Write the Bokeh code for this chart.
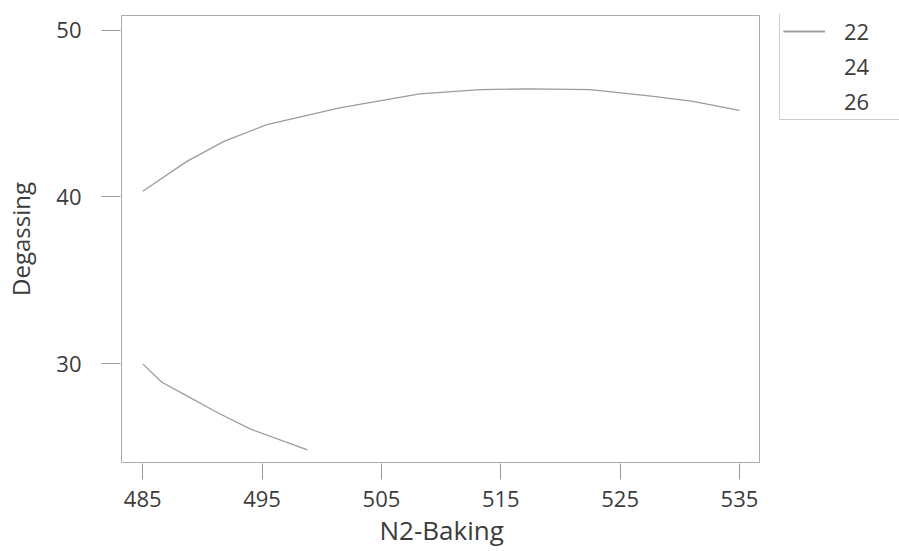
from bokeh.plotting import figure
from bokeh.models import Legend, LegendItem, Range1d, FixedTicker, BoxAnnotation, Title
from bokeh.embed import file_html
from bokeh.resources import INLINE

# contour level values (legend)
levels = ["22", "24", "26"]

# contour segment for level 22 (upper branch)
upper_x = [485.0, 488.7, 491.8, 495.4, 501.5, 508.2, 513.3, 517.5, 522.5, 527.8, 531.1, 535.0]
upper_y = [40.34, 42.13, 43.33, 44.33, 45.33, 46.17, 46.43, 46.47, 46.43, 46.02, 45.72, 45.19]

# contour segment (lower branch)
lower_x = [485.0, 486.6, 488.4, 491.2, 494.0, 498.8]
lower_y = [30.0, 28.9, 28.2, 27.1, 26.1, 24.85]

x_ticks = [485, 495, 505, 515, 525, 535]
y_ticks = [30, 40, 50]

# axis limits of the plotting box
x_lim = (483.22, 536.68)
y_lim = (24.09, 50.87)

x_title = "N2-Baking"
y_title = "Degassing"

FONT = "Open Sans"
TEXT = "#3c3c3c"
LINE = "#9c9c9c"

# layout: the plot box spans pixels 121..759 horizontally, 15..462 vertically;
# the frame is widened to the window's right edge so the legend can sit beside the box
box_px_w = 759 - 121
box_px_h = 462 - 15
ux = box_px_w / (x_lim[1] - x_lim[0])
uy = box_px_h / (y_lim[1] - y_lim[0])
left_px, top_px, bottom_px = 120, 14, 463
xr = Range1d(x_lim[0] - 1 / ux, x_lim[0] + (899 - left_px - 1) / ux)
yr = Range1d(y_lim[0] - 1 / uy, y_lim[1] + 1 / uy)

p = figure(width=899, height=551, output_backend="svg", toolbar_location=None,
           x_range=xr, y_range=yr,
           min_border_left=left_px, min_border_right=0, min_border_top=top_px,
           min_border_bottom=551 - bottom_px)
p.xgrid.visible = False
p.ygrid.visible = False
p.outline_line_color = None
p.background_fill_color = "white"
p.border_fill_color = "white"

p.add_layout(BoxAnnotation(left=x_lim[0], right=x_lim[1], bottom=y_lim[0], top=y_lim[1],
                           fill_alpha=0, line_color="#aaaaaa", line_width=1, line_alpha=1))

r_up = p.line(upper_x, upper_y, line_color=LINE, line_width=1.3)
r_lo = p.line(lower_x, lower_y, line_color=LINE, line_width=1.3)
r24 = p.line([], [], line_color="#f2f2f2", line_width=1.3)
r26 = p.line([], [], line_color="#f2f2f2", line_width=1.3)

for ax in (p.xaxis[0], p.yaxis[0]):
    ax.axis_line_color = None
    ax.major_tick_line_color = "#9a9a9a"
    ax.minor_tick_line_color = None
    ax.major_tick_in = 0
    ax.major_label_text_font = FONT
    ax.major_label_text_font_size = "22px"
    ax.major_label_text_color = TEXT
    ax.axis_label_text_font = FONT
    ax.axis_label_text_font_size = "24px"
    ax.axis_label_text_font_style = "normal"
    ax.axis_label_text_color = TEXT

p.xaxis.ticker = FixedTicker(ticks=x_ticks)
p.yaxis.ticker = FixedTicker(ticks=y_ticks)
p.yaxis.axis_label = y_title
p.xaxis.major_tick_out = 16
p.yaxis.major_tick_out = 19
p.xaxis.major_label_standoff = 11
p.yaxis.major_label_standoff = 20
p.yaxis.axis_label_standoff = 16

# x-axis title centred under the plotting box (not the widened frame)
xt = Title(text=x_title, align="left", offset=259, standoff=0,
           text_font=FONT, text_font_size="26px", text_font_style="normal",
           text_color=TEXT)
p.add_layout(xt, "below")

legend = Legend(items=[
    LegendItem(label=levels[0], renderers=[r_up, r_lo]),
    LegendItem(label=levels[1], renderers=[r24]),
    LegendItem(label=levels[2], renderers=[r26]),
], location=(779 - left_px, bottom_px - 120))
legend.label_text_font = FONT
legend.label_text_font_size = "22px"
legend.label_text_color = TEXT
legend.padding = 3
legend.spacing = 5
legend.label_height = 22
legend.glyph_height = 22
legend.glyph_width = 42
legend.label_standoff = 19
legend.label_width = 80
legend.margin = 0
legend.border_line_color = "#999999"
legend.border_line_width = 1
legend.background_fill_alpha = 0
p.add_layout(legend, "center")

open("out.html", "w").write(file_html(p, INLINE))
